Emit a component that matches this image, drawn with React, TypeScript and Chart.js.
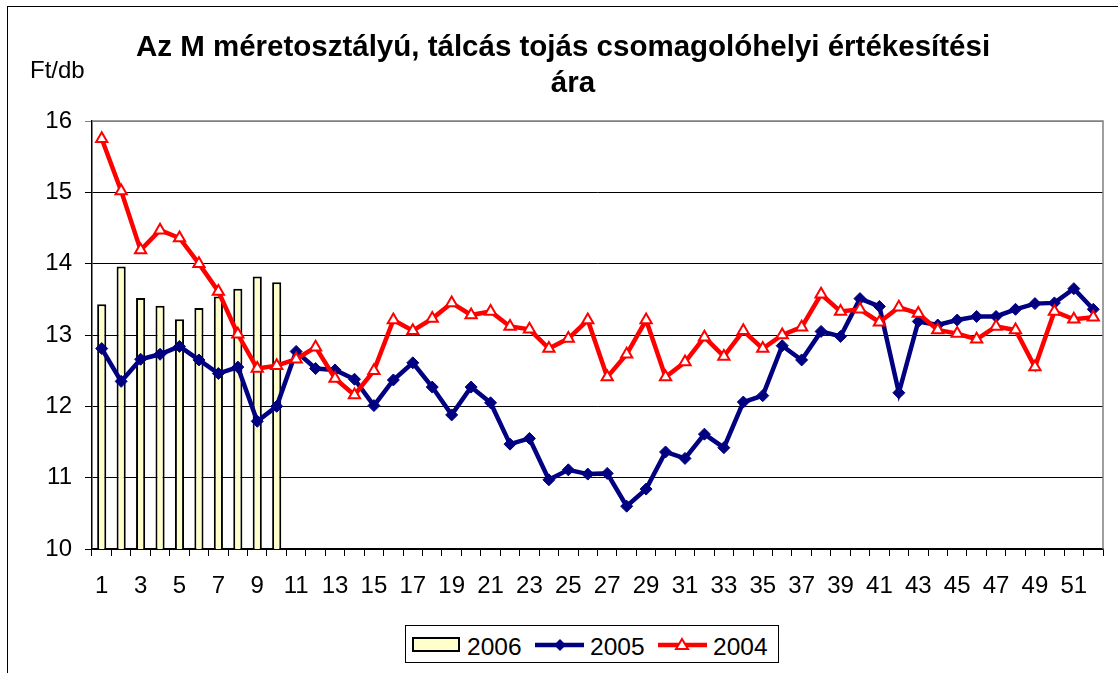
import React, { useEffect, useRef } from "react";
import { Chart, registerables } from "chart.js";

Chart.register(...registerables);

const weeks = ["1","2","3","4","5","6","7","8","9","10","11","12","13","14","15","16","17","18","19","20","21","22","23","24","25","26","27","28","29","30","31","32","33","34","35","36","37","38","39","40","41","42","43","44","45","46","47","48","49","50","51","52"];

const price2006 = [13.43, 13.96, 13.52, 13.41, 13.22, 13.38, 13.54, 13.65, 13.82, 13.74];

const price2005 = [12.81, 12.35, 12.66, 12.73, 12.84, 12.65, 12.46, 12.55, 11.79, 12.0,
  12.77, 12.53, 12.51, 12.38, 12.01, 12.37, 12.61, 12.27, 11.88, 12.27,
  12.05, 11.47, 11.55, 10.97, 11.11, 11.05, 11.06, 10.6, 10.84, 11.36,
  11.27, 11.61, 11.42, 12.06, 12.15, 12.85, 12.65, 13.05, 12.98, 13.51,
  13.4, 12.19, 13.19, 13.14, 13.21, 13.26, 13.26, 13.36, 13.44, 13.45, 13.65, 13.36];

const price2004 = [15.75, 15.02, 14.19, 14.47, 14.36, 14.0, 13.61, 13.01, 12.53, 12.57,
  12.66, 12.83, 12.39, 12.16, 12.5, 13.21, 13.06, 13.23, 13.45, 13.28,
  13.33, 13.12, 13.08, 12.81, 12.95, 13.21, 12.41, 12.73, 13.21, 12.41,
  12.62, 12.97, 12.7, 13.06, 12.81, 13.0, 13.11, 13.57, 13.33, 13.36,
  13.18, 13.39, 13.3, 13.07, 13.02, 12.94, 13.12, 13.07, 12.55, 13.33, 13.22, 13.25];

const yMin = 10;
const yMax = 16;

const FONT = "'Liberation Sans', Arial, sans-serif";

const plotBorder = {
  id: "plotBorder",
  beforeDatasetsDraw(chart: any) {
    const { ctx, chartArea } = chart;
    ctx.save();
    ctx.strokeStyle = "#808080";
    ctx.lineWidth = 1.5;
    ctx.beginPath();
    ctx.moveTo(chartArea.left, chartArea.top);
    ctx.lineTo(chartArea.right, chartArea.top);
    ctx.lineTo(chartArea.right, chartArea.bottom);
    ctx.stroke();
    ctx.restore();
  },
};

export default function App() {
  const ref = useRef<HTMLCanvasElement | null>(null);

  useEffect(() => {
    if (!ref.current) return;
    const chart = new Chart(ref.current, {
      type: "bar",
      data: {
        labels: weeks,
        datasets: [
          {
            type: "line",
            label: "2004",
            data: price2004,
            borderColor: "#FF0000",
            borderWidth: 4.5,
            tension: 0,
            pointStyle: "triangle",
            pointRadius: 6.5,
            pointBackgroundColor: "#FFFFFF",
            pointBorderColor: "#FF0000",
            pointBorderWidth: 2,
            order: 0,
          } as any,
          {
            type: "line",
            label: "2005",
            data: price2005,
            borderColor: "#000080",
            borderWidth: 4.5,
            tension: 0,
            pointStyle: "rectRot",
            pointRadius: 6,
            pointBackgroundColor: "#000080",
            pointBorderColor: "#000080",
            pointBorderWidth: 1,
            order: 1,
          } as any,
          {
            type: "bar",
            label: "2006",
            data: price2006,
            backgroundColor: "#FFFFCC",
            borderColor: "#000000",
            borderWidth: 2,
            barPercentage: 0.47,
            categoryPercentage: 1,
            order: 2,
          } as any,
        ],
      },
      options: {
        responsive: false,
        animation: false,
        devicePixelRatio: 1,
        layout: { padding: { left: 0, top: 121, right: 15, bottom: 44 } },
        plugins: {
          legend: { display: false },
          title: { display: false },
          tooltip: { enabled: false },
        },
        scales: {
          x: {
            offset: true,
            grid: {
              display: true,
              offset: true,
              drawOnChartArea: false,
              drawTicks: true,
              tickLength: 7,
              color: "#000000",
              lineWidth: 1,
            },
            border: { display: true, color: "#000000", width: 1.5 },
            ticks: {
              autoSkip: false,
              maxRotation: 0,
              minRotation: 0,
              padding: 16,
              color: "#000000",
              font: { family: FONT, size: 24 },
              callback: (_v: any, i: number) => (i % 2 === 0 ? weeks[i] : ""),
            },
            afterFit: (s: any) => {
              s.height = 80;
            },
          },
          y: {
            min: yMin,
            max: yMax,
            grid: {
              color: (c: any) => (c.tick && c.tick.value === yMax ? "#808080" : "#000000"),
              lineWidth: 1,
              tickLength: 7,
              drawTicks: true,
            },
            border: { display: true, color: "#000000", width: 1.5 },
            ticks: {
              stepSize: 1,
              padding: 13,
              color: "#000000",
              font: { family: FONT, size: 24 },
            },
            afterFit: (s: any) => {
              s.width = 92;
            },
          },
        },
      },
      plugins: [plotBorder],
    });
    return () => chart.destroy();
  }, []);

  const txt: React.CSSProperties = {
    position: "absolute",
    fontFamily: FONT,
    fontSize: 24,
    lineHeight: "24px",
    color: "#000",
    whiteSpace: "nowrap",
  };

  const title: React.CSSProperties = {
    position: "absolute",
    textAlign: "center",
    fontFamily: FONT,
    fontWeight: "bold",
    fontSize: 29.5,
    lineHeight: "36px",
    whiteSpace: "nowrap",
    color: "#000",
  };

  return (
    <div
      style={{
        position: "fixed",
        left: 0,
        top: 0,
        width: 1118,
        height: 673,
        overflow: "hidden",
        background: "#fff",
      }}
    >
      <div
        style={{
          position: "absolute",
          left: 7,
          top: 6,
          width: 1200,
          height: 800,
          border: "1px solid #000",
        }}
      />
      <canvas
        ref={ref}
        width={1118}
        height={673}
        style={{ position: "absolute", left: 0, top: 0, width: 1118, height: 673 }}
      />
      <div style={{ ...title, left: 0, width: 1126, top: 28 }}>
        Az M méretosztályú, tálcás tojás csomagolóhelyi értékesítési
      </div>
      <div style={{ ...title, left: 473, width: 200, top: 64 }}>ára</div>
      <div style={{ ...txt, left: 30, top: 58 }}>Ft/db</div>

      <div
        style={{
          position: "absolute",
          left: 405,
          top: 625,
          width: 374,
          height: 38,
          boxSizing: "border-box",
          border: "1px solid #000",
          background: "#fff",
        }}
      />
      <div
        style={{
          position: "absolute",
          left: 412,
          top: 637,
          width: 48,
          height: 15,
          boxSizing: "border-box",
          border: "2px solid #000",
          background: "#FFFFCC",
        }}
      />
      <div style={{ ...txt, left: 467, top: 635, fontSize: 24.5 }}>2006</div>
      <svg
        style={{ position: "absolute", left: 530, top: 632 }}
        width={60}
        height={26}
      >
        <line x1={5} y1={13} x2={54} y2={13} stroke="#000080" strokeWidth={4.5} />
        <polygon points="30,7 36,13 30,19 24,13" fill="#000080" />
      </svg>
      <div style={{ ...txt, left: 590, top: 635, fontSize: 24.5 }}>2005</div>
      <svg
        style={{ position: "absolute", left: 653, top: 632 }}
        width={60}
        height={26}
      >
        <line x1={5} y1={13} x2={54} y2={13} stroke="#FF0000" strokeWidth={4.5} />
        <polygon points="29,7 35,17 23,17" fill="#FFFFFF" stroke="#FF0000" strokeWidth={2} />
      </svg>
      <div style={{ ...txt, left: 713, top: 635, fontSize: 24.5 }}>2004</div>
    </div>
  );
}
